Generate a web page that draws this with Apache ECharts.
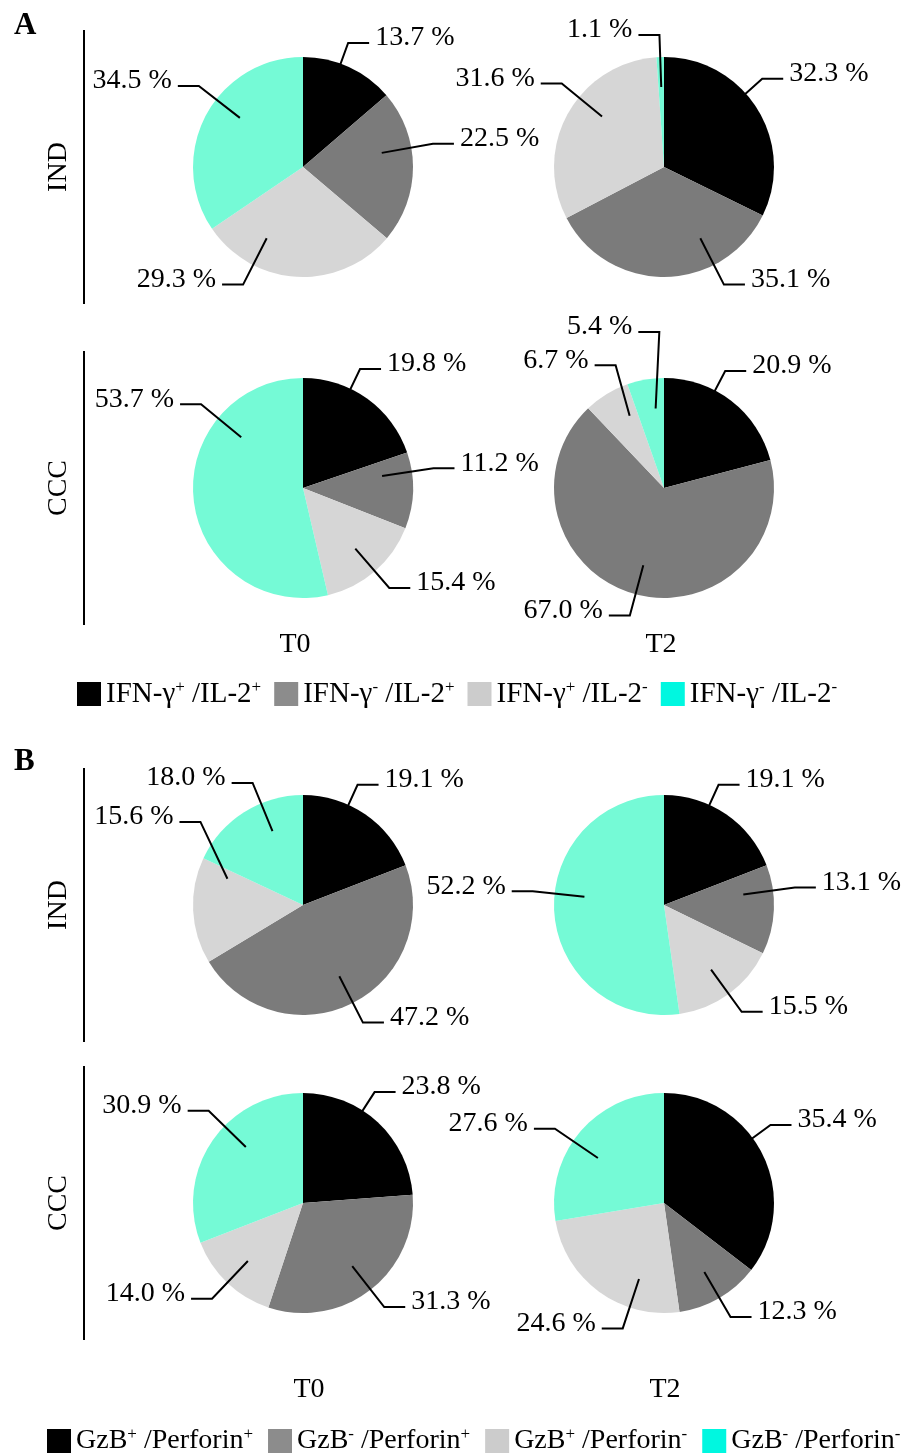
<!DOCTYPE html>
<html>
<head>
<meta charset="utf-8">
<script src="https://cdn.jsdelivr.net/npm/echarts@6/dist/echarts.min.js"></script>
<style>
  html, body { margin: 0; padding: 0; background: #fff; }
  #main { width: 921px; height: 1454px; }
</style>
</head>
<body>
<div id="main"></div>
<script>
// категории (легенды)
const namesA = ['IFN-γ+/IL-2+', 'IFN-γ-/IL-2+', 'IFN-γ+/IL-2-', 'IFN-γ-/IL-2-'];
const namesB = ['GzB+/Perforin+', 'GzB-/Perforin+', 'GzB+/Perforin-', 'GzB-/Perforin-'];
const groups = ['IND', 'CCC'];
const timepoints = ['T0', 'T2'];

// значения, %
const aIndT0 = [13.7, 22.5, 29.3, 34.5];
const aIndT2 = [32.3, 35.1, 31.6, 1.1];
const aCccT0 = [19.8, 11.2, 15.4, 53.7];
const aCccT2 = [20.9, 67.0, 6.7, 5.4];
const bIndT0 = [19.1, 47.2, 15.6, 18.0];
const bIndT2 = [19.1, 13.1, 15.5, 52.2];
const bCccT0 = [23.8, 31.3, 14.0, 30.9];
const bCccT2 = [35.4, 12.3, 24.6, 27.6];

const font = 'Liberation Serif';
const labelSize = 28;
const pieColors = ['#000000', '#7b7b7b', '#d6d6d6', '#75fad6'];
const legendColors = ['#000000', '#8c8c8c', '#cccccc', '#00f7e0'];

const colX = [303, 664];
const rowYA = [167, 488];
const rowYB = [905, 1203];
const R = 110;

const pies = [
    { names: namesA, values: aIndT0, cx: colX[0], cy: rowYA[0] },
    { names: namesA, values: aIndT2, cx: colX[1], cy: rowYA[0] },
    { names: namesA, values: aCccT0, cx: colX[0], cy: rowYA[1] },
    { names: namesA, values: aCccT2, cx: colX[1], cy: rowYA[1] },
    { names: namesB, values: bIndT0, cx: colX[0], cy: rowYB[0] },
    { names: namesB, values: bIndT2, cx: colX[1], cy: rowYB[0] },
    { names: namesB, values: bCccT0, cx: colX[0], cy: rowYB[1] },
    { names: namesB, values: bCccT2, cx: colX[1], cy: rowYB[1] }
];

const fmt = v => v.toFixed(1) + ' %';

// зоны, куда подписи не ставим (легенды, T0/T2)
const keepOut = [
    { x: 0, y: 672, w: 921, h: 42 },
    { x: 0, y: 1418, w: 921, h: 36 },
    { x: 270, y: 628, w: 60, h: 34 }, { x: 636, y: 628, w: 60, h: 34 },
    { x: 284, y: 1373, w: 60, h: 34 }, { x: 640, y: 1373, w: 60, h: 34 }
];

// ---- раскладка выносок: начало внутри сектора, излом за краем, горизонталь до текста
const R_IN = 80, LEN = 22, LEN2 = 21, GAP = 6, TEXT_H = 30;
const ctx = document.createElement('canvas').getContext('2d');
ctx.font = labelSize + 'px "' + font + '"';

const rad = d => d * Math.PI / 180;
function hit(a, b, mx, my) {
    return a.x < b.x + b.w + mx && b.x < a.x + a.w + mx && a.y < b.y + b.h + my && b.y < a.y + a.h + my;
}
function hitCircle(r, cx, cy, rr) {
    const px = Math.max(r.x, Math.min(cx, r.x + r.w));
    const py = Math.max(r.y, Math.min(cy, r.y + r.h));
    return Math.hypot(px - cx, py - cy) < rr;
}
const placed = [];
function free(r) {
    if (r.x < 92 || r.x + r.w > 916 || r.y < 2) return false;
    if (pies.some(p => hitCircle(r, p.cx, p.cy, R + 3))) return false;
    if (keepOut.some(k => hit(r, k, 0, 0))) return false;
    return !placed.some(q => hit(r, q, 25, 3));
}
// угол по часовой от 12 часов; верхние подписи чуть поднимаем, нижние уводим от вертикали
function targetAngle(m) {
    if (Math.cos(rad(m)) > -0.5) {
        if (m < 180) return m <= 20 ? m : Math.max(20, m - 10);
        return m >= 340 ? m : Math.min(340, m + 10);
    }
    if (Math.abs(m - 180) < 27) return m < 180 ? 153 : 207;
    return m;
}

const labelPos = pies.map(p => {
    const total = p.values.reduce((s, v) => s + v, 0);
    let acc = 0;
    return p.values.map(v => {
        const start = acc / total * 360;
        acc += v;
        const end = acc / total * 360;
        const mid = (start + end) / 2;
        const tgt = targetAngle(mid);
        const baseSide = Math.sin(rad(mid)) >= 0 ? 1 : -1;
        const w = ctx.measureText(fmt(v)).width;
        let best = null;
        for (let d = -80; d <= 80; d += 2) {
            const th = tgt + d;
            const up = Math.cos(rad(th)) >= Math.cos(rad(tgt));
            const s = Math.sin(rad(th));
            const side = Math.abs(s) < 0.08 ? baseSide : (s > 0 ? 1 : -1);
            for (const ex of [0, 12, 24, 36, 48]) {
                const re = R + LEN + ex;
                const e = [p.cx + re * s, p.cy - re * Math.cos(rad(th))];
                const endPt = [e[0] + side * LEN2, e[1]];
                const tx = endPt[0] + side * GAP;
                const ty = e[1] - 5;
                const rect = { x: side > 0 ? tx : tx - w, y: ty - TEXT_H / 2, w: w, h: TEXT_H };
                if (!free(rect)) continue;
                const cost = Math.abs(d) * (up ? 1 : 1.1) + ex * 0.8;
                if (!best || cost < best.cost) best = { cost, th, rect, e, endPt, tx, ty, side };
            }
        }
        // начало линии — внутри своего сектора, по возможности на том же луче
        let ti = best.th;
        while (ti - mid > 180) ti -= 360;
        while (mid - ti > 180) ti += 360;
        const mg = Math.min(6, (end - start) / 2);
        ti = Math.max(start + mg, Math.min(end - mg, ti));
        const p0 = [p.cx + R_IN * Math.sin(rad(ti)), p.cy - R_IN * Math.cos(rad(ti))];
        placed.push(best.rect);
        return {
            x: best.tx, y: best.ty,
            align: best.side > 0 ? 'left' : 'right',
            points: [p0, best.e, best.endPt]
        };
    });
});
const leaders = [].concat(...labelPos);

function pie(p, si) {
    return {
        type: 'pie',
        center: [p.cx, p.cy],
        radius: R,
        startAngle: 90,
        clockwise: true,
        silent: true,
        z: 2,
        avoidLabelOverlap: false,
        itemStyle: { borderWidth: 0 },
        data: p.values.map((v, i) => ({ name: p.names[i], value: v })),
        label: {
            position: 'outer',
            formatter: d => fmt(d.value),
            fontFamily: font,
            fontSize: labelSize,
            color: '#000'
        },
        labelLine: { show: false },
        labelLayout: params => {
            const L = labelPos[si][params.dataIndex];
            return { x: L.x, y: L.y, align: L.align, verticalAlign: 'middle' };
        }
    };
}

function supFmt(name) {
    return name.split('/').map((part, i) =>
        '{n|' + (i ? ' /' : '') + part.slice(0, -1) + '}{s|' + part.slice(-1) + '}'
    ).join('');
}

function legend(names, top, left, size, gap) {
    return {
        data: names.map((n, i) => ({ name: n, itemStyle: { color: legendColors[i] } })),
        top: top,
        left: left,
        width: 900,
        icon: 'rect',
        itemWidth: 24,
        itemHeight: 24,
        itemGap: gap,
        selectedMode: false,
        formatter: supFmt,
        textStyle: {
            fontFamily: font,
            fontSize: size,
            color: '#000',
            rich: {
                n: { fontFamily: font, fontSize: size, lineHeight: 30, color: '#000' },
                s: { fontFamily: font, fontSize: 17, lineHeight: 16, verticalAlign: 'top', color: '#000' }
            }
        }
    };
}

function rowDecor(rowY) {
    const items = [];
    rowY.forEach((cy, i) => {
        items.push({
            type: 'line',
            shape: { x1: 84, y1: cy - 137, x2: 84, y2: cy + 137 },
            style: { stroke: '#000', lineWidth: 2 }
        });
        items.push({
            type: 'text',
            x: 59, y: cy,
            rotation: Math.PI / 2,
            style: {
                text: groups[i], font: '28px "' + font + '"', fill: '#000',
                textAlign: 'center', textVerticalAlign: 'middle'
            }
        });
    });
    return items;
}

function colLabels(xs, y) {
    return timepoints.map((t, i) => ({
        type: 'text',
        x: xs[i], y: y,
        style: {
            text: t, font: '28px "' + font + '"', fill: '#000',
            textAlign: 'center', textVerticalAlign: 'middle'
        }
    }));
}

const chart = echarts.init(document.getElementById('main'), null, { renderer: 'canvas' });
chart.setOption({
    animation: false,
    backgroundColor: '#fff',
    color: pieColors,
    legend: [legend(namesA, 674, 72, 29, 13), legend(namesB, 1421, 42, 28, 15)],
    graphic: [
        { type: 'text', x: 14, y: 10, style: { text: 'A', font: 'bold 31px "' + font + '"', fill: '#000' } },
        { type: 'text', x: 14, y: 746, style: { text: 'B', font: 'bold 31px "' + font + '"', fill: '#000' } },
        ...rowDecor(rowYA),
        ...rowDecor(rowYB),
        ...colLabels([295, 661], 645),
        ...colLabels([309, 665], 1390)
    ],
    series: pies.map(pie).concat([{
        // линии-выноски
        type: 'custom',
        coordinateSystem: 'none',
        silent: true,
        z: 10,
        data: leaders.map((_, i) => i),
        renderItem: params => ({
            type: 'polyline',
            shape: { points: leaders[params.dataIndex].points },
            style: { stroke: '#000', lineWidth: 2, fill: null }
        })
    }])
});
</script>
</body>
</html>
